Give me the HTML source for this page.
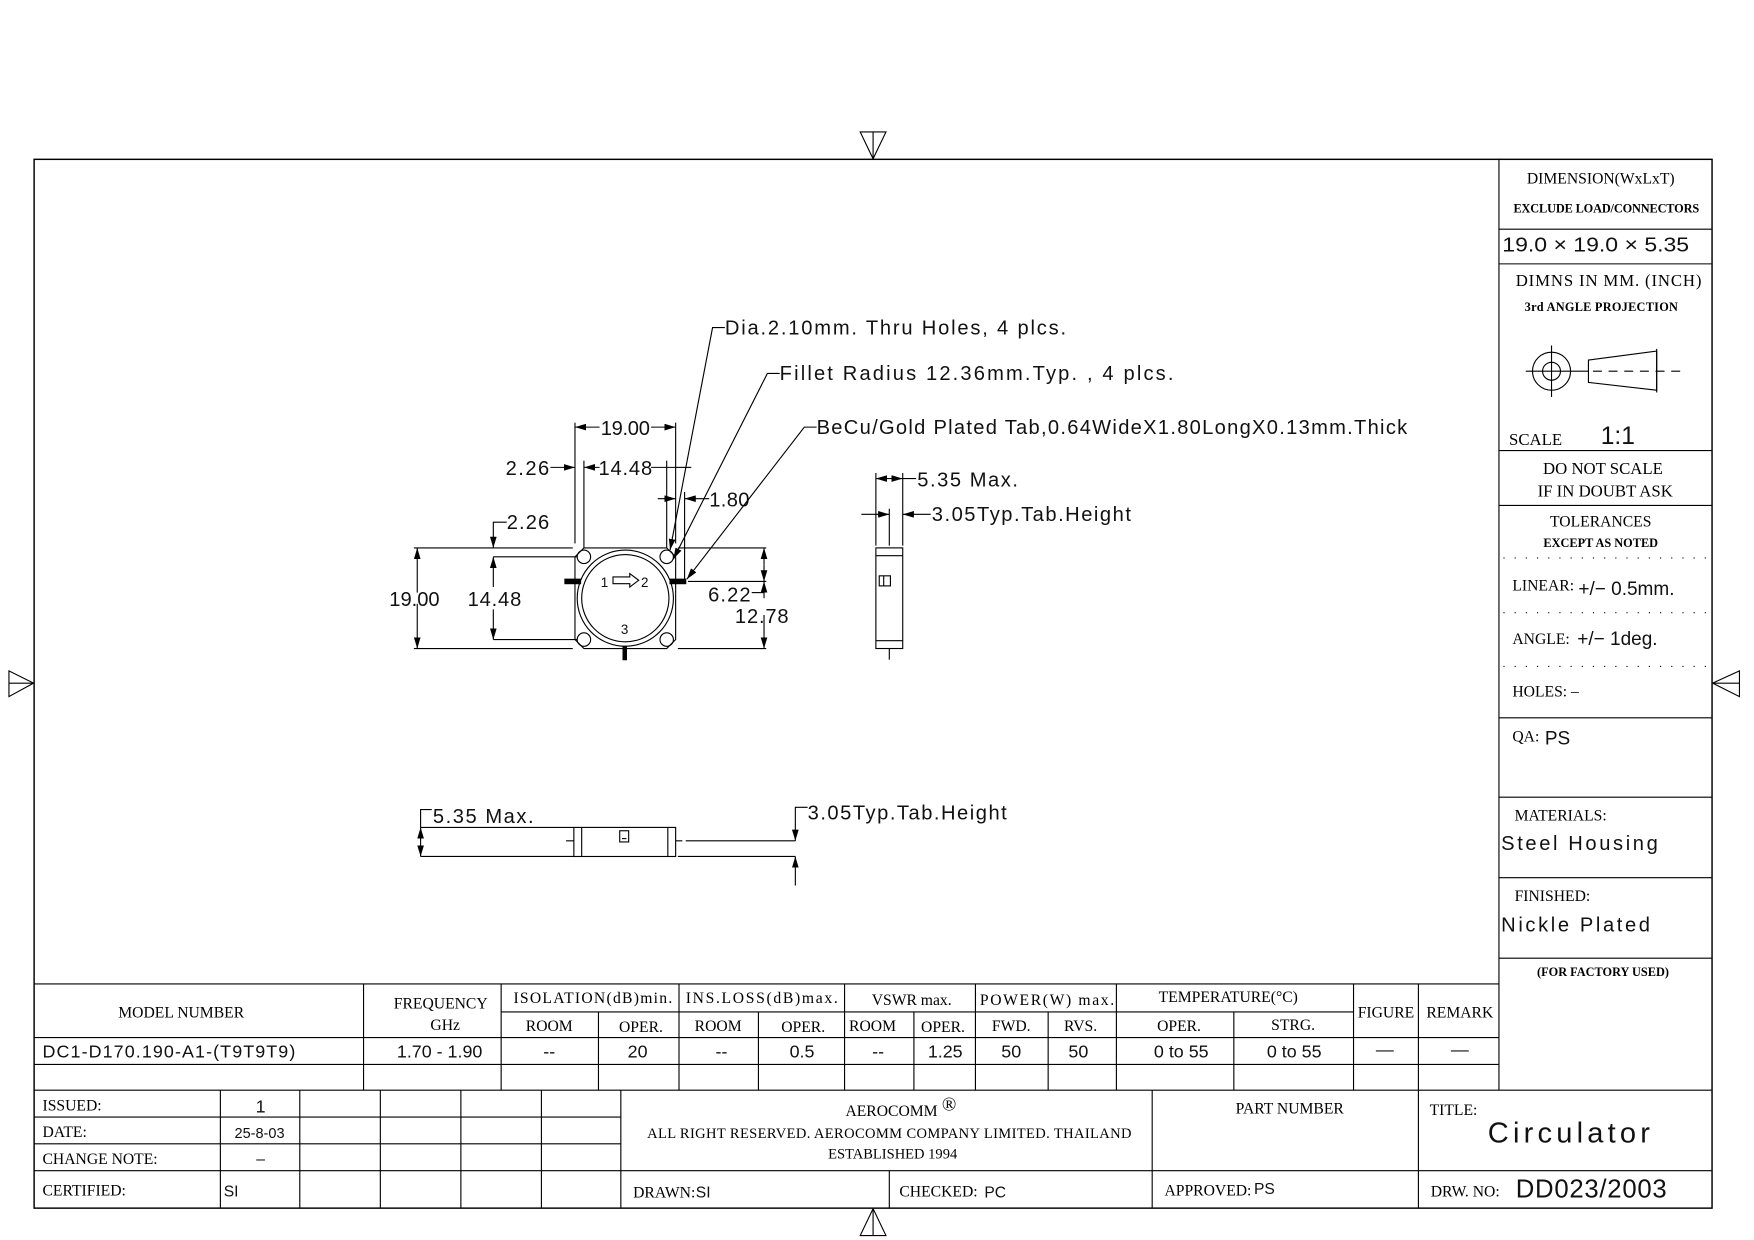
<!DOCTYPE html>
<html><head><meta charset="utf-8"><style>
html,body{margin:0;padding:0;background:#fff;}
svg{display:block}
.s{font-family:"Liberation Serif",serif;fill:#000}
.c{font-family:"Liberation Sans",sans-serif;fill:#111}
line,path,rect,circle,polyline,polygon{stroke:#000;fill:none;stroke-width:1}
.f{fill:#000}
</style></head><body>
<svg width="1754" height="1240" viewBox="0 0 1568 1109" preserveAspectRatio="none" xmlns="http://www.w3.org/2000/svg">
<rect x="0" y="0" width="1568" height="1109" style="fill:#fff;stroke:none"/>
<!-- border -->
<rect x="30.5" y="142.5" width="1500" height="938" style="stroke-width:1.3"/>
<!-- center markers -->
<polygon points="769,118 792,118 780.5,142"/><line x1="780.5" y1="118" x2="780.5" y2="142"/>
<polygon points="769,1105 792,1105 780.5,1081"/><line x1="780.5" y1="1081" x2="780.5" y2="1105"/>
<polygon points="8,600 8,623 30,611"/><line x1="8" y1="611" x2="30" y2="611"/>
<polygon points="1555,600 1555,623 1531,611"/><line x1="1531" y1="611" x2="1555" y2="611"/>

<!-- right panel -->
<line x1="1340" y1="142" x2="1340" y2="975"/>
<line x1="1340" y1="205" x2="1530" y2="205"/>
<line x1="1340" y1="236" x2="1530" y2="236"/>
<line x1="1340" y1="403" x2="1530" y2="403"/>
<line x1="1340" y1="452" x2="1530" y2="452"/>
<line x1="1340" y1="642" x2="1530" y2="642"/>
<line x1="1340" y1="713" x2="1530" y2="713"/>
<line x1="1340" y1="785" x2="1530" y2="785"/>
<line x1="1340" y1="857" x2="1530" y2="857"/>
<g style="stroke-dasharray:1 9">
<line x1="1344" y1="499" x2="1528" y2="499"/><line x1="1344" y1="548" x2="1528" y2="548"/><line x1="1344" y1="596" x2="1528" y2="596"/>
</g>
<text class="s" x="1431" y="164" font-size="14" text-anchor="middle">DIMENSION(WxLxT)</text>
<text class="s" x="1436" y="190" font-size="11" font-weight="bold" text-anchor="middle" textLength="166">EXCLUDE LOAD/CONNECTORS</text>
<text class="c" x="1343" y="225" font-size="18" textLength="167" lengthAdjust="spacingAndGlyphs">19.0 × 19.0 × 5.35</text>
<text class="s" x="1355" y="256" font-size="15" textLength="166">DIMNS IN MM. (INCH)</text>
<text class="s" x="1363" y="278" font-size="11" font-weight="bold" textLength="137">3rd ANGLE PROJECTION</text>
<circle cx="1387" cy="332" r="17"/><circle cx="1387" cy="332" r="8"/>
<line x1="1387" y1="309" x2="1387" y2="355"/><line x1="1364" y1="332" x2="1420" y2="332"/>
<polygon points="1420,322 1481,314 1481,349 1420,342"/>
<line x1="1424" y1="332" x2="1508" y2="332" style="stroke-dasharray:8 6"/>
<line x1="1481" y1="312" x2="1481" y2="351"/>
<text class="s" x="1349" y="398" font-size="15">SCALE</text>
<text class="c" x="1431" y="397" font-size="22" font-weight="300">1:1</text>
<text class="s" x="1433" y="424" font-size="15" text-anchor="middle">DO NOT SCALE</text>
<text class="s" x="1435" y="444" font-size="15" text-anchor="middle">IF IN DOUBT ASK</text>
<text class="s" x="1431" y="471" font-size="14" text-anchor="middle">TOLERANCES</text>
<text class="s" x="1431" y="489" font-size="11" font-weight="bold" text-anchor="middle">EXCEPT AS NOTED</text>
<text class="s" x="1352" y="528" font-size="14">LINEAR:</text>
<text class="c" x="1411" y="532" font-size="17">+/−  0.5mm.</text>
<text class="s" x="1352" y="576" font-size="14">ANGLE:</text>
<text class="c" x="1410" y="577" font-size="17">+/−  1deg.</text>
<text class="s" x="1352" y="623" font-size="14">HOLES:  –</text>
<text class="s" x="1352" y="663" font-size="14">QA:</text>
<text class="c" x="1381" y="666" font-size="17">PS</text>
<text class="s" x="1354" y="734" font-size="14">MATERIALS:</text>
<text class="c" x="1342" y="760" font-size="18" textLength="140">Steel Housing</text>
<text class="s" x="1354" y="806" font-size="14">FINISHED:</text>
<text class="c" x="1342" y="833" font-size="18" textLength="133">Nickle Plated</text>
<text class="s" x="1433" y="873" font-size="11" font-weight="bold" text-anchor="middle">(FOR FACTORY USED)</text>

<!-- spec table -->
<line x1="30" y1="880" x2="1340" y2="880"/>
<line x1="448" y1="905" x2="1210" y2="905"/>
<line x1="30" y1="928" x2="1340" y2="928"/>
<line x1="30" y1="952" x2="1340" y2="952"/>
<line x1="30" y1="975" x2="1530" y2="975"/>
<g>
<line x1="325" y1="880" x2="325" y2="975"/><line x1="448" y1="880" x2="448" y2="975"/>
<line x1="607" y1="880" x2="607" y2="975"/><line x1="755" y1="880" x2="755" y2="975"/>
<line x1="872" y1="880" x2="872" y2="975"/><line x1="998" y1="880" x2="998" y2="975"/>
<line x1="1210" y1="880" x2="1210" y2="975"/><line x1="1268" y1="880" x2="1268" y2="975"/>
<line x1="535" y1="905" x2="535" y2="975"/><line x1="678" y1="905" x2="678" y2="975"/>
<line x1="817" y1="905" x2="817" y2="975"/><line x1="937" y1="905" x2="937" y2="975"/>
<line x1="1103" y1="905" x2="1103" y2="975"/>
</g>
<g class="s" font-size="14" text-anchor="middle">
<text x="162" y="910">MODEL NUMBER</text>
<text x="394" y="902">FREQUENCY</text><text x="398" y="921">GHz</text>
<text x="530" y="897" textLength="142">ISOLATION(dB)min.</text>
<text x="681" y="897" textLength="136">INS.LOSS(dB)max.</text>
<text x="815" y="899">VSWR  max.</text>
<text x="936" y="899" textLength="120">POWER(W)  max.</text>
<text x="1098" y="896">TEMPERATURE(°C)</text>
<text x="1239" y="910">FIGURE</text><text x="1305" y="910">REMARK</text>
<text x="491" y="922">ROOM</text><text x="573" y="923">OPER.</text>
<text x="642" y="922">ROOM</text><text x="718" y="923">OPER.</text>
<text x="780" y="922">ROOM</text><text x="843" y="923">OPER.</text>
<text x="904" y="922">FWD.</text><text x="966" y="922">RVS.</text>
<text x="1054" y="922">OPER.</text><text x="1156" y="921">STRG.</text>
</g>
<g class="c" font-size="16" text-anchor="middle">
<text x="38" y="946" text-anchor="start" textLength="226">DC1-D170.190-A1-(T9T9T9)</text>
<text x="393" y="946">1.70  -  1.90</text>
<text x="491" y="946">--</text><text x="570" y="946">20</text>
<text x="645" y="946">--</text><text x="717" y="946">0.5</text>
<text x="785" y="946">--</text><text x="845" y="946">1.25</text>
<text x="904" y="946">50</text><text x="964" y="946">50</text>
<text x="1056" y="946">0 to 55</text><text x="1157" y="946">0 to 55</text>
<text x="1238" y="944">—</text><text x="1305" y="944">—</text>
</g>

<!-- title block -->
<line x1="30" y1="999" x2="555" y2="999"/><line x1="30" y1="1023" x2="555" y2="1023"/>
<line x1="30" y1="1047" x2="1530" y2="1047"/>
<line x1="197" y1="975" x2="197" y2="1080"/><line x1="268" y1="975" x2="268" y2="1080"/>
<line x1="340" y1="975" x2="340" y2="1080"/><line x1="412" y1="975" x2="412" y2="1080"/>
<line x1="484" y1="975" x2="484" y2="1080"/><line x1="555" y1="975" x2="555" y2="1080"/>
<line x1="795" y1="1047" x2="795" y2="1080"/>
<line x1="1030" y1="975" x2="1030" y2="1080"/><line x1="1268" y1="975" x2="1268" y2="1080"/>
<g class="s" font-size="14">
<text x="38" y="993">ISSUED:</text><text x="38" y="1017">DATE:</text>
<text x="38" y="1041">CHANGE NOTE:</text><text x="38" y="1069">CERTIFIED:</text>
<text x="797" y="998" text-anchor="middle">AEROCOMM</text>
<text x="842" y="993" font-size="17">®</text>
<text x="795" y="1018" text-anchor="middle" font-size="13" textLength="433">ALL RIGHT RESERVED. AEROCOMM COMPANY LIMITED. THAILAND</text>
<text x="798" y="1036" text-anchor="middle" font-size="13">ESTABLISHED 1994</text>
<text x="1153" y="996" text-anchor="middle">PART NUMBER</text>
<text x="1278" y="997">TITLE:</text>
<text x="566" y="1071">DRAWN:</text><text x="804" y="1070">CHECKED:</text>
<text x="1041" y="1069">APPROVED:</text><text x="1279" y="1070">DRW.  NO:</text>
</g>
<g class="c">
<text x="233" y="995" font-size="16" text-anchor="middle">1</text>
<text x="232" y="1018" font-size="13" text-anchor="middle">25-8-03</text>
<text x="233" y="1041" font-size="14" text-anchor="middle">–</text>
<text x="200" y="1070" font-size="14">SI</text>
<text x="622" y="1071" font-size="14">SI</text>
<text x="880" y="1071" font-size="14">PC</text>
<text x="1121" y="1068" font-size="14">PS</text>
<text x="1330" y="1022" font-size="26" font-weight="300" textLength="145">Circulator</text>
<text x="1355" y="1071" font-size="23" font-weight="300" textLength="135">DD023/2003</text>
</g>

<!-- ===== main drawing ===== -->
<defs>
<marker id="a" viewBox="0 0 10 6" refX="10" refY="3" markerWidth="10" markerHeight="6" markerUnits="userSpaceOnUse" orient="auto-start-reverse"><path d="M0,0 L10,3 L0,6z" style="fill:#000;stroke:none"/></marker>
</defs>
<!-- body -->
<polygon points="522,490 596,490 604,498 604,572 596,580 522,580 514,572 514,498"/>
<circle cx="559" cy="535" r="43"/><circle cx="559" cy="535" r="39"/>
<circle cx="522" cy="498" r="6"/><circle cx="596" cy="498" r="6"/>
<circle cx="522" cy="572" r="6"/><circle cx="596" cy="572" r="6"/>
<rect x="505" y="518" width="14" height="4" class="f"/><rect x="599" y="518" width="14" height="4" class="f"/>
<rect x="557" y="578" width="3" height="12" class="f"/>
<text class="c" x="537" y="525" font-size="12">1</text>
<polygon points="548,516 563,516 563,513 571,519 563,525 563,522 548,522"/>
<text class="c" x="573" y="525" font-size="12">2</text>
<text class="c" x="555" y="567" font-size="12">3</text>
<!-- dims top -->
<line x1="514" y1="378" x2="514" y2="486"/><line x1="604" y1="378" x2="604" y2="486"/>
<line x1="536" y1="382" x2="514" y2="382" marker-end="url(#a)"/>
<line x1="582" y1="382" x2="604" y2="382" marker-end="url(#a)"/>
<text class="c" x="537" y="389" font-size="18" textLength="44">19.00</text>
<line x1="522" y1="412" x2="522" y2="490"/><line x1="596" y1="412" x2="596" y2="490"/>
<line x1="492" y1="418" x2="514" y2="418" marker-end="url(#a)"/>
<line x1="536" y1="418" x2="522" y2="418" marker-end="url(#a)"/>
<line x1="582" y1="418" x2="604" y2="418"/>
<line x1="604" y1="418" x2="618" y2="418"/>
<text class="c" x="452" y="425" font-size="18" textLength="39">2.26</text>
<text class="c" x="535" y="425" font-size="18" textLength="48">14.48</text>
<line x1="612" y1="440" x2="612" y2="518"/>
<line x1="588" y1="446" x2="604" y2="446" marker-end="url(#a)"/>
<line x1="634" y1="446" x2="612" y2="446" marker-end="url(#a)"/>
<text class="c" x="634" y="453" font-size="18" textLength="36">1.80</text>
<!-- dims left -->
<line x1="370" y1="490" x2="512" y2="490"/><line x1="370" y1="580" x2="512" y2="580"/>
<line x1="441" y1="498" x2="516" y2="498"/><line x1="441" y1="572" x2="516" y2="572"/>
<line x1="373" y1="530" x2="373" y2="490" marker-end="url(#a)"/>
<line x1="373" y1="540" x2="373" y2="580" marker-end="url(#a)"/>
<line x1="441" y1="525" x2="441" y2="498" marker-end="url(#a)"/>
<line x1="441" y1="545" x2="441" y2="572" marker-end="url(#a)"/>
<polyline points="453,467 441,467 441,490" marker-end="url(#a)"/>
<text class="c" x="453" y="473" font-size="18" textLength="38">2.26</text>
<text class="c" x="348" y="542" font-size="18" textLength="45">19.00</text>
<text class="c" x="418" y="542" font-size="18" textLength="48">14.48</text>
<!-- dims right -->
<line x1="606" y1="490" x2="685" y2="490"/><line x1="615" y1="520" x2="685" y2="520"/><line x1="606" y1="580" x2="685" y2="580"/>
<line x1="683" y1="505" x2="683" y2="490" marker-end="url(#a)"/>
<line x1="683" y1="505" x2="683" y2="520" marker-end="url(#a)"/>
<line x1="683" y1="550" x2="683" y2="580" marker-end="url(#a)"/>
<line x1="683" y1="535" x2="683" y2="520" marker-end="url(#a)"/>
<line x1="672" y1="530" x2="683" y2="530"/>
<text class="c" x="633" y="538" font-size="18" textLength="38">6.22</text>
<text class="c" x="657" y="557" font-size="18" textLength="48">12.78</text>
<!-- leaders -->
<polyline points="648,293 637,293 599,492" marker-end="url(#a)"/>
<polyline points="697,334 686,334 602,500" marker-end="url(#a)"/>
<polyline points="730,382 719,382 614,518" marker-end="url(#a)"/>
<text class="c" x="648" y="299" font-size="18" textLength="305">Dia.2.10mm. Thru Holes, 4 plcs.</text>
<text class="c" x="697" y="340" font-size="18" textLength="352">Fillet Radius 12.36mm.Typ. , 4 plcs.</text>
<text class="c" x="730" y="388" font-size="18" textLength="528">BeCu/Gold Plated Tab,0.64WideX1.80LongX0.13mm.Thick</text>

<!-- side view -->
<rect x="783" y="490" width="24" height="90"/>
<line x1="783" y1="497" x2="807" y2="497"/><line x1="783" y1="573" x2="807" y2="573"/>
<rect x="786" y="515" width="10" height="9"/><line x1="790" y1="515" x2="790" y2="524"/>
<line x1="795" y1="580" x2="795" y2="590"/>
<line x1="783" y1="423" x2="783" y2="488"/><line x1="807" y1="423" x2="807" y2="488"/>
<line x1="795" y1="428" x2="783" y2="428" marker-end="url(#a)"/>
<line x1="795" y1="428" x2="807" y2="428" marker-end="url(#a)"/>
<line x1="807" y1="428" x2="819" y2="428"/>
<text class="c" x="820" y="435" font-size="18" textLength="90">5.35 Max.</text>
<line x1="795" y1="455" x2="795" y2="488"/>
<line x1="770" y1="460" x2="795" y2="460" marker-end="url(#a)"/>
<line x1="832" y1="460" x2="807" y2="460" marker-end="url(#a)"/>
<text class="c" x="833" y="466" font-size="18" textLength="178">3.05Typ.Tab.Height</text>

<!-- bottom view -->
<line x1="376" y1="740" x2="513" y2="740"/><line x1="376" y1="766" x2="513" y2="766"/>
<rect x="513" y="740" width="91" height="26"/>
<line x1="520" y1="740" x2="520" y2="766"/><line x1="597" y1="740" x2="597" y2="766"/>
<rect x="554" y="743" width="8" height="10"/><line x1="556" y1="750" x2="560" y2="750"/>
<line x1="506" y1="752" x2="513" y2="752"/><line x1="604" y1="752" x2="610" y2="752"/>
<line x1="613" y1="752" x2="711" y2="752"/>
<line x1="606" y1="766" x2="711" y2="766"/>
<line x1="376" y1="753" x2="376" y2="740" marker-end="url(#a)"/>
<line x1="376" y1="753" x2="376" y2="766" marker-end="url(#a)"/>
<polyline points="376,740 376,724 386,724"/>
<text class="c" x="387" y="736" font-size="18" textLength="90">5.35 Max.</text>
<polyline points="722,722 711,722 711,752" marker-end="url(#a)"/>
<line x1="711" y1="792" x2="711" y2="766" marker-end="url(#a)"/>
<text class="c" x="722" y="733" font-size="18" textLength="178">3.05Typ.Tab.Height</text>
</svg>
</body></html>
